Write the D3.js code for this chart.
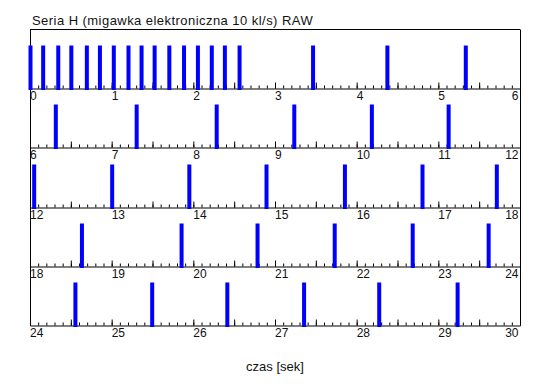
<!DOCTYPE html>
<html lang="pl">
<head>
<meta charset="utf-8">
<title>Seria H</title>
<script src="https://cdn.jsdelivr.net/npm/d3@7/dist/d3.min.js"></script>
<style>
  body { margin: 0; background: #fff; }
  text { font-family: "Liberation Sans", Arial, sans-serif; fill: #111; }
</style>
</head>
<body>
<script>
// frame times in seconds
var frameTimes = [
  0.00, 0.155, 0.34, 0.50, 0.69, 0.85, 1.02, 1.20, 1.36, 1.52, 1.70, 1.88,
  2.05, 2.22, 2.38, 2.56, 3.46, 4.37, 5.33,
  6.31, 7.30, 8.28, 9.23, 10.18, 11.12,
  12.045, 13.00, 13.945, 14.89, 15.85, 16.80, 17.71,
  18.63, 19.85, 20.78, 21.725, 22.68, 23.61,
  24.55, 25.49, 26.41, 27.35, 28.27, 29.23
];
var rowStarts = [0, 6, 12, 18, 24];
var rowSpan = 6;
var title = "Seria H (migawka elektroniczna 10 kl/s) RAW";
var xTitle = "czas [sek]";

var w = 550, h = 389;
var left = 30, right = 520;

var svg = d3.select("body").append("svg")
  .attr("width", w)
  .attr("height", h);

// rows: top of row r, the baseline is the top of row r+1
var rowY = d3.scaleLinear().domain([0, rowStarts.length]).range([29, 325]);
function baseline(i) { return Math.round(rowY(i + 1)) + 0.5; }
var top0 = Math.round(rowY(0)) + 0.5;

// frame box
svg.append("line")
  .attr("x1", left).attr("x2", right)
  .attr("y1", top0).attr("y2", top0)
  .attr("stroke", "#000");
svg.append("line")
  .attr("x1", left + 0.5).attr("x2", left + 0.5)
  .attr("y1", top0).attr("y2", baseline(rowStarts.length - 1))
  .attr("stroke", "#000");
svg.append("line")
  .attr("x1", right + 0.5).attr("x2", right + 0.5)
  .attr("y1", top0).attr("y2", baseline(rowStarts.length - 1))
  .attr("stroke", "#000");

rowStarts.forEach(function(r0, i) {
  var x = d3.scaleLinear().domain([r0, r0 + rowSpan]).range([left, right]);
  var y0 = baseline(i);
  var g = svg.append("g").attr("transform", "translate(0," + y0 + ")");

  var minor = d3.range(0, rowSpan * 10 + 1).map(function(k) { return r0 + k / 10; });
  var half = d3.range(0, rowSpan * 2 + 1).map(function(k) { return r0 + k / 2; });
  var whole = d3.range(0, rowSpan + 1).map(function(k) { return r0 + k; });

  // bars
  var rows = frameTimes.filter(function(t) { return t >= r0 && t < r0 + rowSpan; });
  svg.selectAll(null).data(rows).enter().append("rect")
    .attr("x", function(d) { return x(d) - 1.5; })
    .attr("y", y0 - 43)
    .attr("width", 4)
    .attr("height", 44.5)
    .attr("fill", "#0000ff");

  g.append("g")
    .call(d3.axisBottom(x).tickValues(minor).tickSize(-3).tickSizeOuter(0).tickFormat(""))
    .call(function(a) { a.selectAll("line").attr("stroke", "#000"); a.select(".domain").attr("stroke", "#000"); });
  g.append("g")
    .call(d3.axisBottom(x).tickValues(half).tickSize(-6).tickSizeOuter(0).tickFormat(""))
    .call(function(a) { a.select(".domain").remove(); a.selectAll("line").attr("stroke", "#000"); });

  var lab = g.append("g")
    .call(d3.axisBottom(x).tickValues(whole).tickSize(0).tickPadding(3).tickFormat(d3.format("d")));
  lab.select(".domain").remove();
  lab.selectAll("text")
    .attr("font-size", 12)
    .attr("font-family", null)
    .attr("dx", function(d, j) { return j === whole.length - 1 ? -2 : -0.5; })
    .attr("text-anchor", function(d, j) { return j === whole.length - 1 ? "end" : "start"; });
});

svg.append("text")
  .attr("x", 32)
  .attr("y", 25)
  .attr("font-size", 13)
  .attr("letter-spacing", 0.45)
  .text(title);

svg.append("text")
  .attr("x", (left + right) / 2)
  .attr("y", 371)
  .attr("text-anchor", "middle")
  .attr("font-size", 13)
  .text(xTitle);
</script>
</body>
</html>
